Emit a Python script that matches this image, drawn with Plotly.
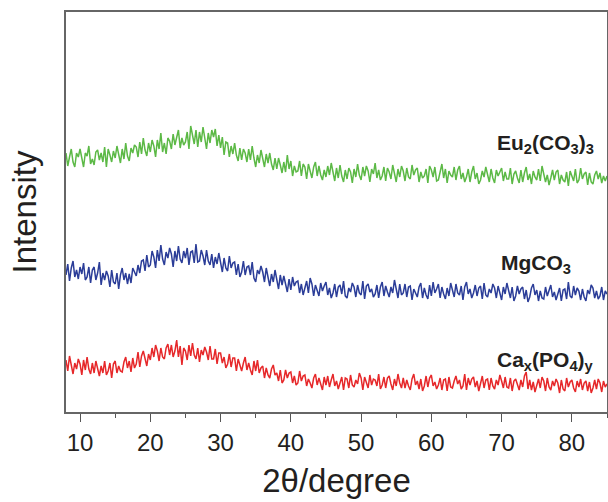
import plotly.graph_objects as go

# 2-theta grid start and step (degrees)
x_start = 8.0
x_step = 0.25

# Intensities (arbitrary units, traces offset vertically)
eu_intensity = [
    259, 246, 255, 263, 250, 245, 259, 255, 263, 252, 245, 259, 256, 266, 248, 253,
    247, 260, 262, 252, 259, 250, 265, 245, 263, 257, 250, 261, 254, 266, 259, 249,
    263, 253, 269, 256, 251, 264, 259, 267, 265, 255, 270, 258, 274, 262, 256, 269,
    260, 272, 266, 255, 272, 263, 279, 260, 269, 258, 274, 271, 263, 278, 267, 274,
    282, 264, 274, 267, 270, 280, 263, 286, 277, 268, 282, 265, 280, 270, 285, 272,
    263, 279, 269, 282, 275, 283, 266, 277, 264, 275, 257, 270, 269, 255, 266, 258,
    269, 257, 251, 264, 252, 263, 259, 250, 263, 252, 266, 254, 245, 257, 249, 262,
    254, 245, 258, 249, 259, 248, 242, 254, 243, 254, 247, 239, 250, 240, 257, 243,
    251, 236, 246, 240, 241, 251, 236, 248, 245, 233, 248, 241, 234, 245, 250, 236,
    246, 237, 232, 242, 235, 246, 237, 249, 240, 231, 244, 234, 247, 236, 230, 242,
    233, 244, 240, 229, 243, 235, 248, 237, 232, 245, 236, 246, 241, 230, 243, 238,
    249, 234, 242, 232, 236, 245, 231, 244, 240, 233, 247, 237, 230, 243, 235, 246,
    241, 231, 244, 235, 233, 247, 237, 242, 244, 230, 240, 234, 236, 243, 229, 246,
    242, 235, 245, 231, 232, 240, 248, 234, 243, 229, 241, 237, 235, 245, 232, 242,
    246, 233, 239, 230, 235, 243, 230, 240, 246, 233, 239, 228, 232, 241, 235, 245,
    238, 230, 243, 234, 229, 242, 236, 241, 244, 231, 240, 233, 233, 244, 228, 238,
    241, 234, 229, 242, 230, 239, 245, 232, 238, 228, 241, 235, 232, 243, 231, 246,
    239, 230, 237, 227, 234, 242, 232, 240, 242, 228, 237, 232, 230, 240, 226, 241,
    236, 231, 243, 229, 232, 244, 233, 238, 240, 227, 239, 230, 228, 237, 241, 233,
    239, 229, 236, 231, 236,
]

mg_intensity = [
    137, 148, 131, 144, 151, 135, 142, 133, 145, 138, 149, 132, 135, 145, 129, 142,
    145, 132, 139, 150, 127, 139, 132, 141, 136, 125, 142, 130, 128, 139, 123, 137,
    144, 132, 139, 128, 138, 129, 144, 140, 136, 147, 139, 151, 152, 141, 157, 145,
    147, 161, 155, 144, 162, 151, 167, 153, 147, 160, 154, 164, 158, 145, 161, 151,
    166, 153, 149, 161, 154, 164, 147, 160, 161, 149, 168, 150, 151, 162, 156, 147,
    162, 151, 147, 158, 144, 155, 148, 159, 150, 140, 154, 144, 141, 156, 144, 149,
    150, 137, 148, 135, 140, 151, 137, 145, 146, 137, 150, 134, 130, 142, 138, 146,
    140, 130, 144, 134, 126, 138, 130, 142, 133, 123, 137, 127, 136, 126, 120, 133,
    122, 135, 126, 130, 131, 119, 128, 117, 123, 131, 119, 134, 128, 116, 127, 121,
    116, 129, 121, 126, 130, 117, 124, 114, 119, 128, 115, 125, 127, 118, 131, 116,
    114, 124, 120, 129, 125, 115, 127, 119, 117, 131, 113, 126, 128, 120, 123, 115,
    118, 127, 114, 125, 130, 116, 126, 120, 115, 125, 119, 132, 124, 114, 128, 117,
    119, 128, 115, 125, 126, 112, 123, 118, 115, 125, 129, 114, 124, 117, 113, 127,
    116, 130, 119, 123, 128, 114, 125, 118, 113, 124, 116, 129, 122, 115, 128, 119,
    117, 126, 112, 125, 130, 118, 123, 114, 119, 127, 116, 124, 126, 113, 129, 117,
    115, 123, 119, 128, 124, 114, 126, 120, 112, 125, 118, 129, 121, 114, 125, 111,
    116, 126, 118, 123, 125, 113, 122, 110, 115, 124, 128, 117, 122, 111, 121, 114,
    113, 125, 116, 123, 127, 115, 120, 112, 117, 124, 111, 122, 123, 113, 130, 116,
    114, 126, 117, 124, 121, 112, 123, 115, 111, 122, 118, 127, 124, 114, 121, 113,
    116, 125, 112, 121, 118,
]

ca_intensity = [
    52, 41, 56, 45, 38, 49, 43, 53, 48, 37, 52, 42, 55, 43, 38, 49,
    39, 51, 43, 36, 46, 39, 51, 37, 41, 49, 34, 48, 51, 39, 46, 41,
    40, 50, 55, 44, 51, 40, 54, 44, 48, 60, 45, 56, 61, 52, 46, 58,
    52, 64, 55, 67, 61, 51, 64, 55, 53, 64, 68, 57, 67, 55, 61, 72,
    55, 66, 47, 64, 61, 52, 67, 56, 69, 57, 53, 64, 50, 62, 57, 65,
    60, 52, 66, 53, 53, 63, 48, 59, 59, 49, 55, 44, 48, 58, 45, 54,
    54, 41, 53, 47, 41, 49, 55, 42, 49, 42, 37, 51, 41, 52, 39, 44,
    46, 34, 44, 37, 34, 43, 47, 37, 39, 31, 42, 29, 32, 42, 34, 39,
    40, 29, 36, 27, 29, 41, 31, 36, 37, 26, 33, 29, 24, 34, 38, 27,
    34, 28, 22, 35, 27, 36, 25, 32, 38, 26, 31, 23, 28, 35, 22, 34,
    33, 24, 37, 27, 25, 32, 28, 39, 34, 22, 35, 29, 24, 37, 27, 33,
    32, 26, 38, 23, 27, 35, 24, 34, 36, 28, 22, 33, 26, 38, 29, 24,
    34, 24, 32, 26, 22, 33, 38, 27, 31, 23, 33, 21, 26, 36, 25, 34,
    37, 26, 30, 23, 27, 34, 22, 32, 33, 21, 35, 25, 24, 31, 36, 28,
    32, 23, 26, 38, 22, 34, 27, 33, 35, 25, 31, 21, 28, 36, 24, 32,
    33, 22, 34, 26, 23, 32, 27, 37, 31, 24, 35, 25, 24, 34, 21, 31,
    33, 26, 22, 32, 25, 36, 40, 23, 32, 22, 30, 20, 26, 33, 24, 35,
    31, 21, 34, 25, 22, 31, 26, 33, 29, 19, 32, 23, 21, 34, 25, 30,
    32, 24, 20, 31, 25, 33, 22, 29, 31, 21, 30, 19, 24, 32, 23, 33,
    29, 20, 31, 25, 28,
]

series_names = ["Eu<sub>2</sub>(CO<sub>3</sub>)<sub>3</sub>", "MgCO<sub>3</sub>",
                "Ca<sub>x</sub>(PO<sub>4</sub>)<sub>y</sub>"]
series_colors = ["#5cb946", "#2b3d98", "#e6282a"]
x_ticks = [10, 20, 30, 40, 50, 60, 70, 80]

series_values = [eu_intensity, mg_intensity, ca_intensity]

fig = go.Figure()
for vals, col in zip(series_values, series_colors):
    xs = [x_start + i * x_step for i in range(len(vals))]
    fig.add_trace(go.Scatter(x=xs, y=vals, mode="lines",
                             line=dict(color=col, width=1.5), showlegend=False,
                             hoverinfo="skip"))

label_pos = [(83.5, 268), (80.2, 148), (83.5, 51)]
for name, (lx, ly) in zip(series_names, label_pos):
    fig.add_annotation(x=lx, y=ly, xref="x", yref="y", text="<b>" + name + "</b>",
                       showarrow=False, xanchor="right", yanchor="middle",
                       font=dict(family="Liberation Sans, Arial", size=21, color="#231f20"))

fig.update_layout(
    width=608, height=502,
    margin=dict(l=66, r=1, t=12, b=90, autoexpand=False),
    paper_bgcolor="white", plot_bgcolor="white",
    font=dict(family="Liberation Sans, Arial", color="#231f20"),
    xaxis=dict(range=[8, 85], tickvals=x_ticks, ticks="outside", ticklen=8,
               tickwidth=1.2, tickcolor="#555",
               minor=dict(dtick=5, tick0=5, ticks="outside", ticklen=4, tickwidth=1.2, tickcolor="#555"),
               showline=True, linecolor="#666", linewidth=1.5, mirror=True,
               showgrid=False, zeroline=False,
               tickfont=dict(size=24, color="#231f20"),
               title=dict(text="2θ/degree", font=dict(size=33, color="#231f20"), standoff=14)),
    yaxis=dict(range=[0, 400], showticklabels=False, ticks="",
               showline=True, linecolor="#666", linewidth=1.5, mirror=True,
               showgrid=False, zeroline=False,
               title=dict(text="Intensity", font=dict(size=33, color="#231f20"), standoff=18)),
)

fig.write_html("out.html", config={"displayModeBar": False},
               post_script="document.body.style.margin='0';document.body.style.overflow='hidden';")
